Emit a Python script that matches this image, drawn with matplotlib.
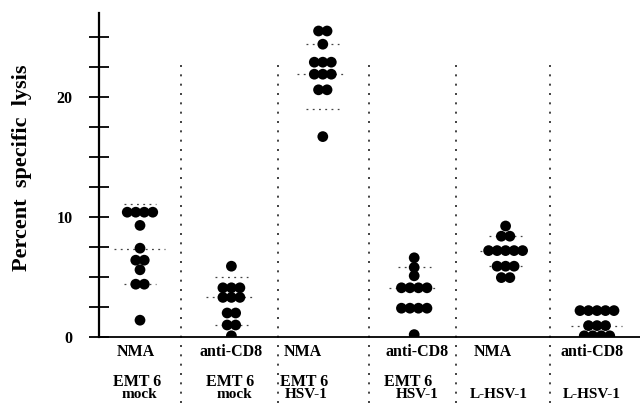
import numpy as np
import matplotlib
matplotlib.use("Agg")
import matplotlib.pyplot as plt
import matplotlib.transforms as mtransforms

# Percent specific lysis, one value per dot
g1 = [10.4, 10.4, 10.4, 10.4, 9.3, 7.4, 6.4, 6.4, 5.6, 4.4, 4.4, 1.4]
g2 = [5.9, 4.1, 4.1, 4.1, 3.3, 3.3, 3.3, 2.0, 2.0, 1.0, 1.0, 0.1]
g3 = [25.5, 25.5, 24.4, 22.9, 22.9, 22.9, 21.9, 21.9, 21.9, 20.6, 20.6, 16.7]
g4 = [6.6, 5.8, 5.1, 4.1, 4.1, 4.1, 4.1, 2.4, 2.4, 2.4, 2.4, 0.2]
g5 = [9.25, 8.4, 8.4, 7.2, 7.2, 7.2, 7.2, 7.2, 5.9, 5.9, 5.9, 4.95, 4.95]
g6 = [2.2, 2.2, 2.2, 2.2, 2.2, 0.95, 0.95, 0.95, 0.1, 0.1, 0.1, 0.1]
groups = [g1, g2, g3, g4, g5, g6]

# mean and +/- SD lines
means = [7.35, 3.3, 21.9, 4.1, 7.2, 0.95]
sd_upper = [11.1, 5.0, 24.4, 5.8, 8.4, 2.0]
sd_lower = [4.4, 1.0, 19.0, 2.4, 5.9, 0.0]

effector = ["NMA", "anti-CD8", "NMA", "anti-CD8", "NMA", "anti-CD8"]
target_top = ["EMT 6", "EMT 6", "EMT 6", "EMT 6", "", ""]
target_bottom = ["mock", "mock", "HSV-1", "HSV-1", "L-HSV-1", "L-HSV-1"]

serif = ["Liberation Serif", "DejaVu Serif"]

fig = plt.figure(figsize=(6.4, 4.04), dpi=100)
W, H = 640, 404
ax = fig.add_axes([99 / W, (H - 337) / H, (640 - 99) / W, (337 - 13) / H])

px = 91.4  # pixels per group
ax.set_xlim((99 - 140) / px, (640 - 140) / px)
ax.set_ylim(0, 27)

step = 8.5 / px
for i, vals in enumerate(groups):
    vals = np.array(vals)
    for v in np.unique(vals):
        n = int(np.sum(vals == v))
        xs = i + (np.arange(n) - (n - 1) / 2) * step
        ax.scatter(xs, [v] * n, s=60, color="black", edgecolors="none", zorder=3)
    ax.plot([i - 0.28, i + 0.27], [means[i]] * 2, color="#444444", lw=0.9,
            linestyle=(0, (1.5, 3.5)), zorder=2)
    for y in (sd_upper[i], sd_lower[i]):
        ax.plot([i - 0.18, i + 0.18], [y, y], color="#444444", lw=0.9,
                linestyle=(0, (1.5, 3.5)), zorder=2)

# dotted group separators
for xs in [0.45, 1.51, 2.51, 3.46, 4.49]:
    ax.plot([xs, xs], [22.7, -5.6], color="#222222", lw=1.2,
            linestyle=(0, (1.2, 4.4)), clip_on=False, zorder=1)

# axes styling
for side in ["top", "right"]:
    ax.spines[side].set_visible(False)
ax.spines["left"].set_linewidth(1.6)
ax.spines["bottom"].set_linewidth(1.3)
ax.set_xticks([])
yt = np.arange(0, 25.1, 2.5)
ax.set_yticks(yt)
ax.set_yticklabels(["0" if t == 0 else "10" if t == 10 else "20" if t == 20 else "" for t in yt],
                   fontfamily=serif, fontweight="bold", fontsize=11.5)
ax.tick_params(axis="y", direction="inout", length=14.4, width=1.3, pad=12)

# category labels below the axis
trans = mtransforms.blended_transform_factory(ax.transData, fig.transFigure)
row1_x = [136, 231, 303, 417, 493, 592]
row2_x = [137, 230, 304, 408, 499, 592]
row3_x = [139, 234, 306, 417, 499, 592]
for i in range(6):
    ax.text((row1_x[i] - 140) / px, (H - 352) / H, effector[i], transform=trans,
            ha="center", va="center", fontfamily=serif, fontweight="bold", fontsize=11.5)
    ax.text((row2_x[i] - 140) / px, (H - 382) / H, target_top[i], transform=trans,
            ha="center", va="center", fontfamily=serif, fontweight="bold", fontsize=11.5)
    ax.text((row3_x[i] - 140) / px, (H - 395) / H, target_bottom[i], transform=trans,
            ha="center", va="center", fontfamily=serif, fontweight="bold", fontsize=11)

fig.text(22 / W, 1 - 168 / H, "Percent  specific  lysis", rotation=90,
         ha="center", va="center", fontfamily=serif, fontweight="bold", fontsize=16)

fig.savefig("out.png", dpi=100)
